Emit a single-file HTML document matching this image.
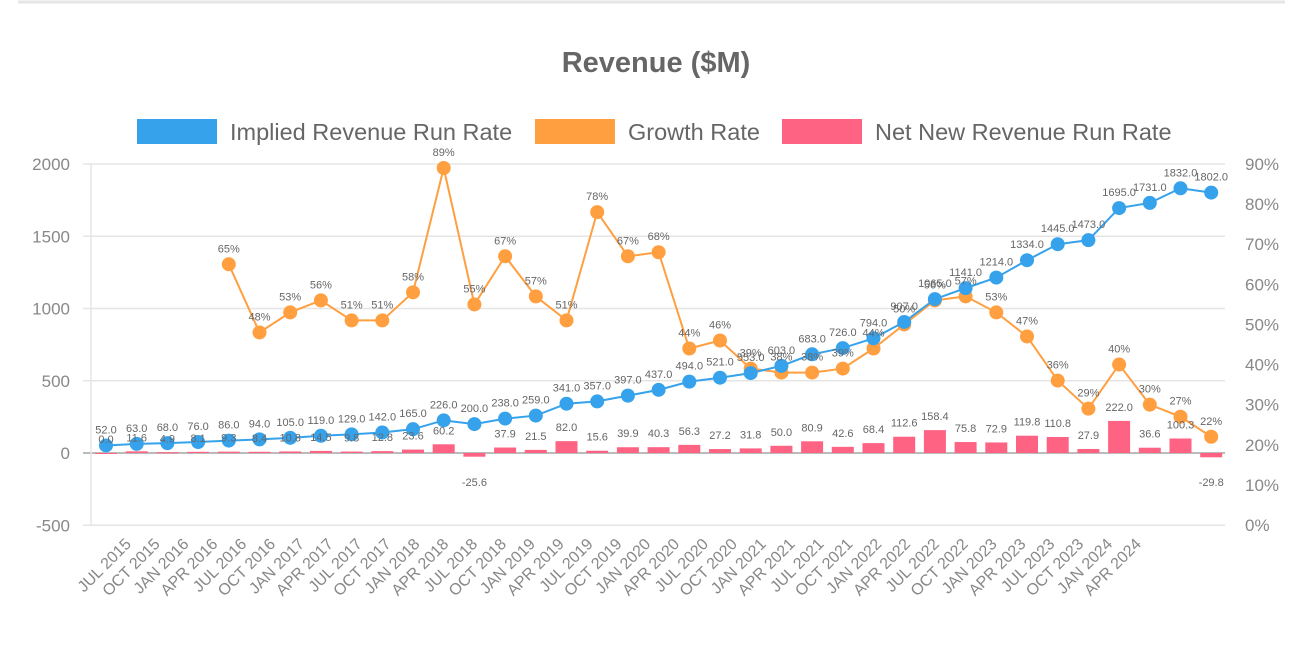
<!DOCTYPE html>
<html><head><meta charset="utf-8"><style>
body{margin:0;background:#fff;}
svg text{font-family:"Liberation Sans",Arial,sans-serif;}
</style></head><body>
<svg width="1304" height="650" viewBox="0 0 1304 650">
<line x1="18" y1="2" x2="1285" y2="2" stroke="#e6e6e6" stroke-width="3"/>
<text x="656" y="72" text-anchor="middle" font-size="29" font-weight="bold" fill="#666">Revenue ($M)</text>
<g>
<g><rect x="137" y="119" width="80" height="25" fill="#36a2eb"/><text x="230" y="140" font-size="23.5" fill="#666">Implied Revenue Run Rate</text></g>
<g><rect x="535" y="119" width="80" height="25" fill="#ff9f40"/><text x="628" y="140" font-size="23.5" fill="#666">Growth Rate</text></g>
<g><rect x="782" y="119" width="80" height="25" fill="#ff6384"/><text x="875" y="140" font-size="23.5" fill="#666">Net New Revenue Run Rate</text></g>
</g>
<g id="grid"></g>
<g id="bars"></g>
<g id="lines"></g>
<g id="labels"></g>
<g id="xlabels"></g>
</svg>
<script>
const categories=["JUL 2015","OCT 2015","JAN 2016","APR 2016","JUL 2016","OCT 2016","JAN 2017","APR 2017","JUL 2017","OCT 2017","JAN 2018","APR 2018","JUL 2018","OCT 2018","JAN 2019","APR 2019","JUL 2019","OCT 2019","JAN 2020","APR 2020","JUL 2020","OCT 2020","JAN 2021","APR 2021","JUL 2021","OCT 2021","JAN 2022","APR 2022","JUL 2022","OCT 2022","JAN 2023","APR 2023","JUL 2023","OCT 2023","JAN 2024","APR 2024"];
const revenue=[52,63,68,76,86,94,105,119,129,142,165,226,200,238,259,341,357,397,437,494,521,553,603,683,726,794,907,1065,1141,1214,1334,1445,1473,1695,1731,1832,1802];
const growth=[null,null,null,null,65,48,53,56,51,51,58,89,55,67,57,51,78,67,68,44,46,39,38,38,39,44,50,56,57,53,47,36,29,40,30,27,22];
const netNew=[0.0,11.6,4.9,8.1,9.3,8.4,10.8,14.5,9.8,12.8,23.6,60.2,-25.6,37.9,21.5,82.0,15.6,39.9,40.3,56.3,27.2,31.8,50.0,80.9,42.6,68.4,112.6,158.4,75.8,72.9,119.8,110.8,27.9,222.0,36.6,100.3,-29.8];
const leftTicks=[-500,0,500,1000,1500,2000];
const rightTicks=[0,10,20,30,40,50,60,70,80,90];

const NS="http://www.w3.org/2000/svg";
const X0=106,DX=30.7,L0=91,L1=1225;
const yL=v=>453-v*(289/2000);
const yR=v=>525-v*(361/90);
const xi=i=>X0+i*DX;
function mk(tag,attrs,parent,txt){const e=document.createElementNS(NS,tag);for(const k in attrs)e.setAttribute(k,attrs[k]);if(txt!==undefined)e.textContent=txt;parent.appendChild(e);return e;}
const grid=document.getElementById('grid'),bars=document.getElementById('bars'),lines=document.getElementById('lines'),labels=document.getElementById('labels'),xl=document.getElementById('xlabels');

leftTicks.forEach(t=>{
  const y=yL(t);
  const g=mk('line',{x1:L0-8,x2:L1,y1:y,y2:y,stroke:t===0?'#bbb':'#e5e5e5','stroke-width':t===0?2:1.5},grid);
  
  
  const tx=mk('text',{x:70,y:y+6,'text-anchor':'end','font-size':17,fill:'#888'},grid,String(t));
  
  
});
rightTicks.forEach(t=>{
  const tx=mk('text',{x:1245,y:yR(t)+6,'font-size':17,fill:'#888'},grid,t+'%');
  
  
});
const ax=mk('line',{x1:L0,x2:L0,y1:164,y2:525,stroke:'#e5e5e5','stroke-width':1.5},grid);



netNew.forEach((v,i)=>{
  const y0=yL(0),y1=yL(v);
  const r=mk('rect',{x:xi(i)-11,y:Math.min(y0,y1),width:22,height:Math.max(1,Math.abs(y1-y0)),fill:'#ff6384'},bars);
  
  
  const ly=v>=0?y1-10:y0+33;
  const t=mk('text',{x:xi(i),y:ly,'text-anchor':'middle','font-size':11,fill:'#666'},labels,v.toFixed(1));
  
  
});

let d='';growth.forEach((v,i)=>{if(v===null)return;d+=(d?'L':'M')+xi(i)+','+yR(v);});
const gp=mk('path',{d:d,fill:'none',stroke:'#ff9f40','stroke-width':2},lines);


growth.forEach((v,i)=>{if(v===null)return;
  const c=mk('circle',{cx:xi(i),cy:yR(v),r:7,fill:'#ff9f40'},lines);
  
  
  const t=mk('text',{x:xi(i),y:yR(v)-12,'text-anchor':'middle','font-size':11,fill:'#666'},labels,v+'%');
  
  
});
d='';revenue.forEach((v,i)=>{d+=(i?'L':'M')+xi(i)+','+yL(v);});
const rp=mk('path',{d:d,fill:'none',stroke:'#36a2eb','stroke-width':2},lines);


revenue.forEach((v,i)=>{
  const c=mk('circle',{cx:xi(i),cy:yL(v),r:7,fill:'#36a2eb'},lines);
  
  
  const t=mk('text',{x:xi(i),y:yL(v)-12,'text-anchor':'middle','font-size':11,fill:'#666'},labels,v.toFixed(1));
  
  
});

categories.forEach((c,i)=>{
  const x=132+i*28.86,y=545;
  const t=mk('text',{x:x,y:y,'text-anchor':'end','font-size':16,fill:'#888',transform:'rotate(-45 '+x+' '+y+')'},xl,c);
  
  
});
</script>
</body></html>
